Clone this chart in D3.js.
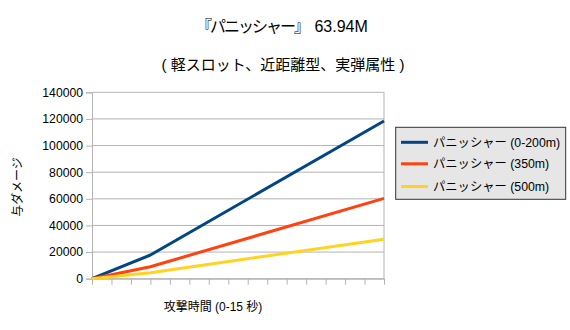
<!DOCTYPE html>
<html><head><meta charset="utf-8">
<script src="https://cdn.jsdelivr.net/npm/d3@7"></script>
<style>
body{margin:0;background:#fff;}
text{font-family:"Liberation Sans","Noto Sans CJK JP",sans-serif;fill:#000;}
</style></head><body>
<svg id="c" width="570" height="330"></svg>
<script>
const titleName = "『パニッシャー』";
const titleValue = " 63.94M";
const subtitle = "( 軽スロット、近距離型、実弾属性 )";
const xTitle = "攻撃時間 (0-15 秒)";
const yTitle = "与ダメージ";
const xTicks = d3.range(0, 16);
const yTicks = [0,20000,40000,60000,80000,100000,120000,140000];
const times = [0, 3, 15];
const seriesNames = ["パニッシャー (0-200m)", "パニッシャー (350m)", "パニッシャー (500m)"];
const blueVals = [0, 17800, 118500];
const redVals = [0, 9000, 60300];
const yellowVals = [0, 4500, 29700];
const colors = ["#004586", "#ff420e", "#ffd320"];

const series = [blueVals, redVals, yellowVals].map((v,i)=>({name:seriesNames[i], color:colors[i], pts:times.map((t,j)=>[t,v[j]])}));

const svg = d3.select("#c");
const L=92, R=384, T=92.3, B=278.7;
const x = d3.scaleLinear().domain([0,15]).range([L,R]);
const y = d3.scaleLinear().domain([0,140000]).range([B,T]);

// grid
svg.append("g").selectAll("line").data(yTicks).join("line")
  .attr("x1",L).attr("x2",R).attr("y1",d=>y(d)).attr("y2",d=>y(d))
  .attr("stroke","#b3b3b3").attr("stroke-width",1);
svg.append("line").attr("x1",R).attr("x2",R).attr("y1",T).attr("y2",B).attr("stroke","#b3b3b3");

// y axis
const ya = svg.append("g").attr("transform",`translate(${L},0)`)
  .call(d3.axisLeft(y).tickValues(yTicks).tickFormat(d3.format("d")).tickSize(6).tickPadding(3));
ya.selectAll("path,line").attr("stroke","#b3b3b3");
ya.selectAll("text").style("font-size","12.2px").attr("fill","#000").attr("font-family",null);

// x axis
const xa = svg.append("g").attr("transform",`translate(0,${B})`)
  .call(d3.axisBottom(x).tickValues(xTicks).tickFormat("").tickSize(6).tickSizeOuter(0));
xa.selectAll("path,line").attr("stroke","#b3b3b3");

// lines
const line = d3.line().x(d=>x(d[0])).y(d=>y(d[1]));
svg.append("g").selectAll("path").data(series).join("path")
  .attr("d",d=>line(d.pts)).attr("fill","none").attr("stroke",d=>d.color)
  .attr("stroke-width",3).attr("stroke-linejoin","round");

// titles
const tt = svg.append("text").attr("x",196).attr("y",32).style("font-size","16px");
tt.append("tspan").style("letter-spacing","-2px").text(titleName);
tt.append("tspan").attr("dx",2).text(titleValue);
svg.append("text").attr("x",283).attr("y",70).attr("text-anchor","middle").style("font-size","15px").text(subtitle);
svg.append("text").attr("x",213).attr("y",311).attr("text-anchor","middle").style("font-size","12px").text(xTitle);
svg.append("text").attr("transform","translate(22,187) rotate(-90)").attr("text-anchor","middle").style("font-size","12px").text(yTitle);

// legend
const lg = svg.append("g");
lg.append("rect").attr("x",395.7).attr("y",127.3).attr("width",170).attr("height",72)
  .attr("fill","#e6e6e6").attr("stroke","#333").attr("stroke-width",1);
const ly = [142.3,163.8,186.5];
series.forEach((s,i)=>{
  lg.append("line").attr("x1",401).attr("x2",428).attr("y1",ly[i]).attr("y2",ly[i]).attr("stroke",s.color).attr("stroke-width",3);
  lg.append("text").attr("x",433).attr("y",ly[i]+4.5).style("font-size","12.3px").text(s.name);
});
</script>
</body></html>
